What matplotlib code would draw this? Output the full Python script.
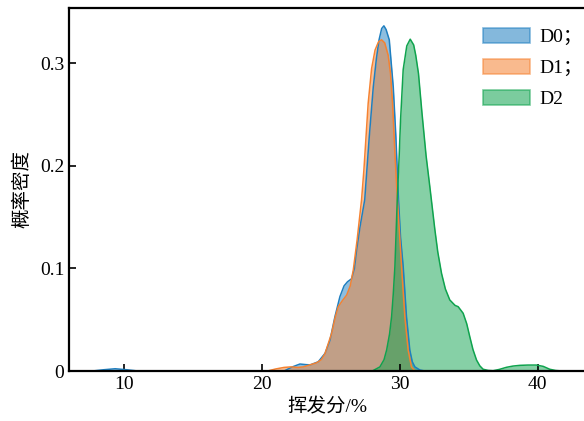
import matplotlib
matplotlib.use("Agg")
import matplotlib.pyplot as plt
from matplotlib.patches import Patch

plt.rcParams["font.family"] = ["Liberation Serif", "Noto Sans CJK SC"]

# density curves (x = 挥发分 %, y = 概率密度)
d0_x = [7.7, 8.5, 9.35, 10.2, 11.0, 21.6, 22.2, 22.75, 23.2, 23.5, 24.08, 24.57, 24.93,
        25.29, 25.65, 25.95, 26.2, 26.5, 26.7, 26.86, 27.1, 27.45, 27.78, 28.07, 28.3,
        28.49, 28.68, 28.84, 29.0, 29.23, 29.52, 29.71, 29.9, 30.05, 30.24, 30.48, 30.72,
        30.9, 31.09, 31.45, 31.8]
d0_y = [0.0, 0.0012, 0.0022, 0.0012, 0.0, 0.0, 0.004, 0.0068, 0.0062, 0.006, 0.009, 0.0172, 0.030,
        0.053, 0.0725, 0.083, 0.087, 0.090, 0.100, 0.118, 0.140, 0.167, 0.2286, 0.277, 0.305,
        0.323, 0.334, 0.3366, 0.333, 0.323, 0.277, 0.2286, 0.167, 0.130, 0.102, 0.053, 0.0205,
        0.009, 0.004, 0.001, 0.0]

d1_x = [20.4, 21.0, 21.6, 22.1, 22.6, 23.0, 23.48, 23.96, 24.3, 24.57, 25.05, 25.3, 25.53,
        25.85, 26.14, 26.4, 26.62, 26.9, 27.22, 27.39, 27.7, 27.95, 28.2, 28.45, 28.67, 28.9,
        29.15, 29.32, 29.47, 29.64, 29.82, 30.12, 30.36, 30.6, 30.84, 31.1]
d1_y = [0.0, 0.002, 0.0035, 0.004, 0.0035, 0.004, 0.006, 0.008, 0.011, 0.017, 0.0368, 0.052, 0.0627,
        0.069, 0.074, 0.083, 0.0985, 0.128, 0.167, 0.196, 0.261, 0.295, 0.313, 0.321, 0.323, 0.320,
        0.308, 0.290, 0.261, 0.2125, 0.167, 0.102, 0.053, 0.0205, 0.004, 0.0]

d2_x = [28.0, 28.55, 28.85, 29.04, 29.25, 29.4, 29.52, 29.64, 29.81, 29.95, 30.05, 30.24, 30.5,
        30.75, 31.0, 31.15, 31.35, 31.6, 31.9, 32.17, 32.54, 32.75, 33.02, 33.3, 33.62, 34.0,
        34.23, 34.59, 34.85, 35.07, 35.3, 35.56, 35.8, 36.04, 36.4, 36.76, 37.2, 37.73, 38.2,
        38.7, 39.3, 39.9, 40.4, 40.87, 41.3, 41.8]
d2_y = [0.0, 0.004, 0.011, 0.0205, 0.036, 0.053, 0.075, 0.102, 0.167, 0.210, 0.245, 0.294, 0.317,
        0.3236, 0.318, 0.308, 0.290, 0.252, 0.210, 0.180, 0.1376, 0.116, 0.0953, 0.080, 0.0693, 0.064,
        0.0627, 0.0563, 0.046, 0.0335, 0.021, 0.0107, 0.005, 0.0017, 0.0006, 0.0003, 0.0015, 0.0036, 0.0048,
        0.0055, 0.0058, 0.0058, 0.0045, 0.0017, 0.0005, 0.0]

series = [("D0；", d0_x, d0_y, "#1f7fc0"),
          ("D1；", d1_x, d1_y, "#f58231"),
          ("D2", d2_x, d2_y, "#0fa34e")]
x_ticks = [10, 20, 30, 40]
y_ticks = [0, 0.1, 0.2, 0.3]
y_tick_labels = ["0", "0.1", "0.2", "0.3"]

fig = plt.figure(figsize=(5.84, 4.21), dpi=100)
ax = fig.add_axes([69 / 584, 50 / 421, 517 / 584, 363 / 421])

handles = []
for label, xs, ys, c in series:
    ax.fill_between(xs, ys, 0, color=c, alpha=0.5, linewidth=0)
    ax.plot(xs, ys, color=c, linewidth=1.1)
    handles.append(Patch(facecolor=c, edgecolor=c, alpha=0.55, linewidth=1.2, label=label))

ax.set_xlim(6.0, 43.5)
ax.set_ylim(0, 0.354)
ax.set_xticks(x_ticks)
ax.set_yticks(y_ticks)
ax.set_yticklabels(y_tick_labels)
ax.tick_params(direction="in", length=5, width=1.2, labelsize=14, top=False, right=False)
for s in ["left", "bottom", "top"]:
    ax.spines[s].set_linewidth(1.6)
ax.spines["right"].set_visible(False)

ax.set_xlabel("挥发分/%", fontsize=14, labelpad=4)
ax.set_ylabel("概率密度", fontsize=14, labelpad=6)

ax.legend(handles=handles, loc="upper left", bbox_to_anchor=(483 / 584, 393 / 421),
          bbox_transform=fig.transFigure, frameon=False, fontsize=14,
          handlelength=2.4, handleheight=0.8, labelspacing=0.65, borderpad=0,
          borderaxespad=0, handletextpad=0.5)

fig.savefig("out.png", dpi=100, facecolor="white")
